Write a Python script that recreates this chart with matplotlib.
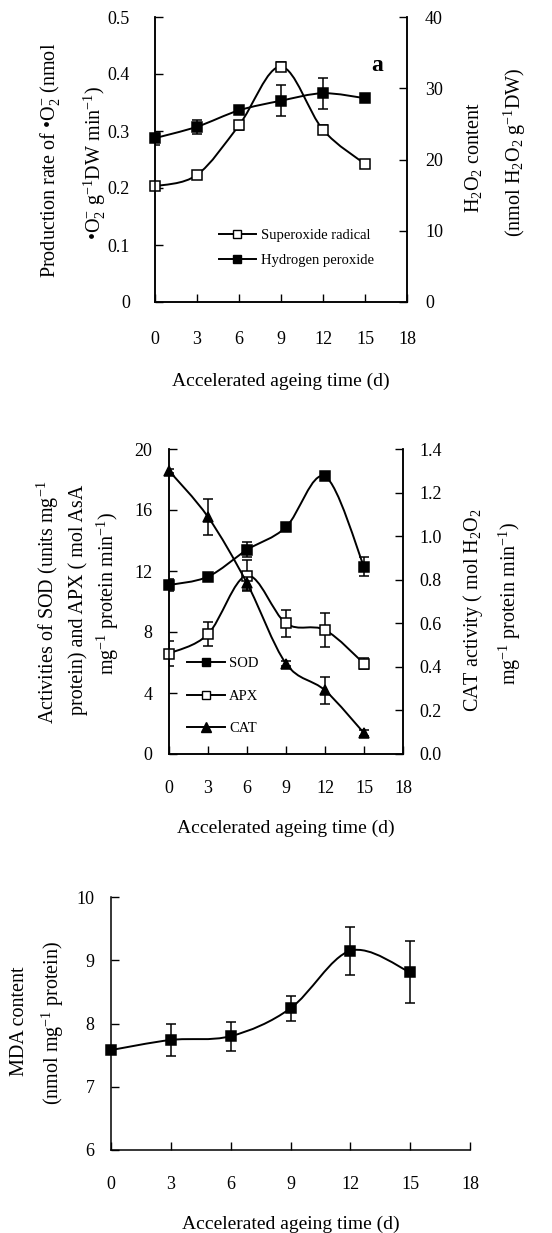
import numpy as np
import matplotlib
matplotlib.use("Agg")
import matplotlib.pyplot as plt
from matplotlib.path import Path
from matplotlib.patches import PathPatch
from matplotlib.lines import Line2D

plt.rcParams['font.family'] = ['Liberation Serif', 'DejaVu Serif']
plt.rcParams['mathtext.fontset'] = 'custom'
plt.rcParams['mathtext.rm'] = 'Liberation Serif'
plt.rcParams['mathtext.it'] = 'Liberation Serif:italic'

days = [0, 3, 6, 9, 12, 15]

# panel a
superoxide = [0.203, 0.223, 0.310, 0.413, 0.302, 0.242]
superoxide_err = [0.003, 0.003, 0.008, 0.008, 0.008, 0.003]
h2o2 = [23.0, 24.6, 26.9, 28.25, 29.3, 28.6]
h2o2_err = [0.9, 1.0, 0.3, 2.15, 2.2, 0.3]

# panel b
sod = [11.08, 11.63, 13.39, 14.88, 18.2, 12.29]
sod_err = [0.4, 0.15, 0.48, 0.15, 0.15, 0.6]
apx = [6.59, 7.86, 11.7, 8.57, 8.13, 5.93]
apx_err = [0.8, 0.8, 1.0, 0.88, 1.13, 0.35]
cat = [1.30, 1.088, 0.784, 0.415, 0.292, 0.096]
cat_err = [0.01, 0.082, 0.03, 0.012, 0.061, 0.012]

# panel c
mda = [7.58, 7.74, 7.80, 8.24, 9.15, 8.81]
mda_err = [0.02, 0.25, 0.23, 0.2, 0.38, 0.49]

xticks = [0, 3, 6, 9, 12, 15, 18]
W, H = 552, 1233


def smooth_path(x, y):
    # excel style smoothed line as cubic bezier segments
    verts = [(x[0], y[0])]
    codes = [Path.MOVETO]
    n = len(x)
    for i in range(n - 1):
        x0, y0 = (x[i - 1], y[i - 1]) if i > 0 else (x[i], y[i])
        x3, y3 = (x[i + 2], y[i + 2]) if i + 2 < n else (x[i + 1], y[i + 1])
        c1 = (x[i] + (x[i + 1] - x0) / 6, y[i] + (y[i + 1] - y0) / 6)
        c2 = (x[i + 1] - (x3 - x[i]) / 6, y[i + 1] - (y3 - y[i]) / 6)
        verts += [c1, c2, (x[i + 1], y[i + 1])]
        codes += [Path.CURVE4] * 3
    return Path(verts, codes)


def series(ax, y, err, marker, face):
    ax.errorbar(days, y, yerr=err, fmt='none', ecolor='black', elinewidth=1.1,
                capsize=3.5, capthick=1.1, zorder=2)
    ax.add_patch(PathPatch(smooth_path(days, y), fill=False, lw=1.4,
                           edgecolor='black', zorder=3))
    ax.plot(days, y, ls='none', marker=marker, ms=6.5, mfc=face, mec='black',
            mew=1.1, zorder=4, clip_on=False)


def axes_at(left, right, top, bottom):
    return fig.add_axes([left / W, 1 - bottom / H, (right - left) / W, (bottom - top) / H])


def style(ax, right=True, ypad=12, xpad=19):
    ax.spines['top'].set_visible(False)
    ax.spines['right'].set_visible(right)
    ax.tick_params(direction='in', length=6, width=1, labelsize=13)
    ax.tick_params(axis='y', pad=ypad)
    ax.tick_params(axis='x', pad=xpad)
    for s in ax.spines.values():
        s.set_linewidth(1.1)


def vlabel(x, y, s, size=14.5):
    fig.text(x / W, 1 - y / H, s, rotation=90, ha='center', va='center', fontsize=size)


fig = plt.figure(figsize=(W / 100, H / 100), dpi=100)

# ---- panel a
ax1 = axes_at(155, 407, 17, 302)
ax1.set_xlim(0, 18)
ax1.set_ylim(0, 0.5)
ax1.set_xticks(xticks)
ax1.set_yticks(np.arange(0, 0.51, 0.1))
ax1.set_yticklabels(['0', '0.1', '0.2', '0.3', '0.4', '0.5'])
style(ax1, ypad=18, xpad=21)
ax1b = ax1.twinx()
ax1b.set_ylim(0, 40)
ax1b.set_yticks([0, 10, 20, 30, 40])
style(ax1b, ypad=13)
series(ax1, superoxide, superoxide_err, 's', 'white')
series(ax1b, h2o2, h2o2_err, 's', 'black')
ax1.text(0.88, 0.83, 'a', transform=ax1.transAxes, fontsize=17, fontweight='bold',
         ha='center', va='center')
hs = [Line2D([], [], color='black', lw=1.4, marker='s', ms=6, mfc='white', mec='black'),
      Line2D([], [], color='black', lw=1.4, marker='s', ms=6, mfc='black', mec='black')]
ax1b.legend(hs, ['Superoxide radical', 'Hydrogen peroxide'], loc='center left',
            bbox_to_anchor=(0.2, 0.19), frameon=False, fontsize=10.5,
            handlelength=2.6, handletextpad=0.3, labelspacing=0.8, numpoints=1)
ax1.set_xlabel('Accelerated ageing time (d)', fontsize=14, labelpad=18)
vlabel(50, 160, r'Production rate of •O$_2^{-}$ (nmol')
vlabel(95, 163, r'•O$_2^{-}$ g$^{-1}$DW min$^{-1}$)')
vlabel(473, 158, r'H$_2$O$_2$ content')
vlabel(515, 152, r'(nmol H$_2$O$_2$ g$^{-1}$DW)')

# ---- panel b
ax2 = axes_at(169, 403, 449, 754)
ax2.set_xlim(0, 18)
ax2.set_ylim(0, 20)
ax2.set_xticks(xticks)
ax2.set_yticks([0, 4, 8, 12, 16, 20])
style(ax2, ypad=12, xpad=19)
ax2b = ax2.twinx()
ax2b.set_ylim(0, 1.4)
ax2b.set_yticks(np.arange(0, 1.41, 0.2))
ax2b.set_yticklabels(['0.0', '0.2', '0.4', '0.6', '0.8', '1.0', '1.2', '1.4'])
style(ax2b, ypad=12)
series(ax2, sod, sod_err, 's', 'black')
series(ax2, apx, apx_err, 's', 'white')
series(ax2b, cat, cat_err, '^', 'black')
hs = [Line2D([], [], color='black', lw=1.4, marker='s', ms=6, mfc='black', mec='black'),
      Line2D([], [], color='black', lw=1.4, marker='s', ms=6, mfc='white', mec='black'),
      Line2D([], [], color='black', lw=1.4, marker='^', ms=6.5, mfc='black', mec='black')]
ax2b.legend(hs, ['SOD', 'APX', 'CAT'], loc='center left', bbox_to_anchor=(0.02, 0.19),
            frameon=False, fontsize=10.5, handlelength=2.6, handletextpad=0.3,
            labelspacing=1.3, numpoints=1)
ax2.set_xlabel('Accelerated ageing time (d)', fontsize=14, labelpad=16)
vlabel(48, 602, r'Activities of SOD (units mg$^{-1}$')
vlabel(78, 600, r'protein) and APX ( mol AsA')
vlabel(108, 593, r'mg$^{-1}$ protein min$^{-1}$)')
vlabel(473, 610, r'CAT activity ( mol H$_2$O$_2$')
vlabel(510, 603, r'mg$^{-1}$ protein min$^{-1}$)')

# ---- panel c
ax3 = axes_at(111, 470, 897, 1150)
ax3.set_xlim(0, 18)
ax3.set_ylim(6, 10)
ax3.set_xticks(xticks)
ax3.set_yticks([6, 7, 8, 9, 10])
style(ax3, right=False, ypad=12, xpad=19)
series(ax3, mda, mda_err, 's', 'black')
ax3.set_xlabel('Accelerated ageing time (d)', fontsize=14, labelpad=16)
vlabel(20, 1021, 'MDA content')
vlabel(53, 1023, r'(nmol mg$^{-1}$ protein)')

fig.savefig('out.png', dpi=100)
